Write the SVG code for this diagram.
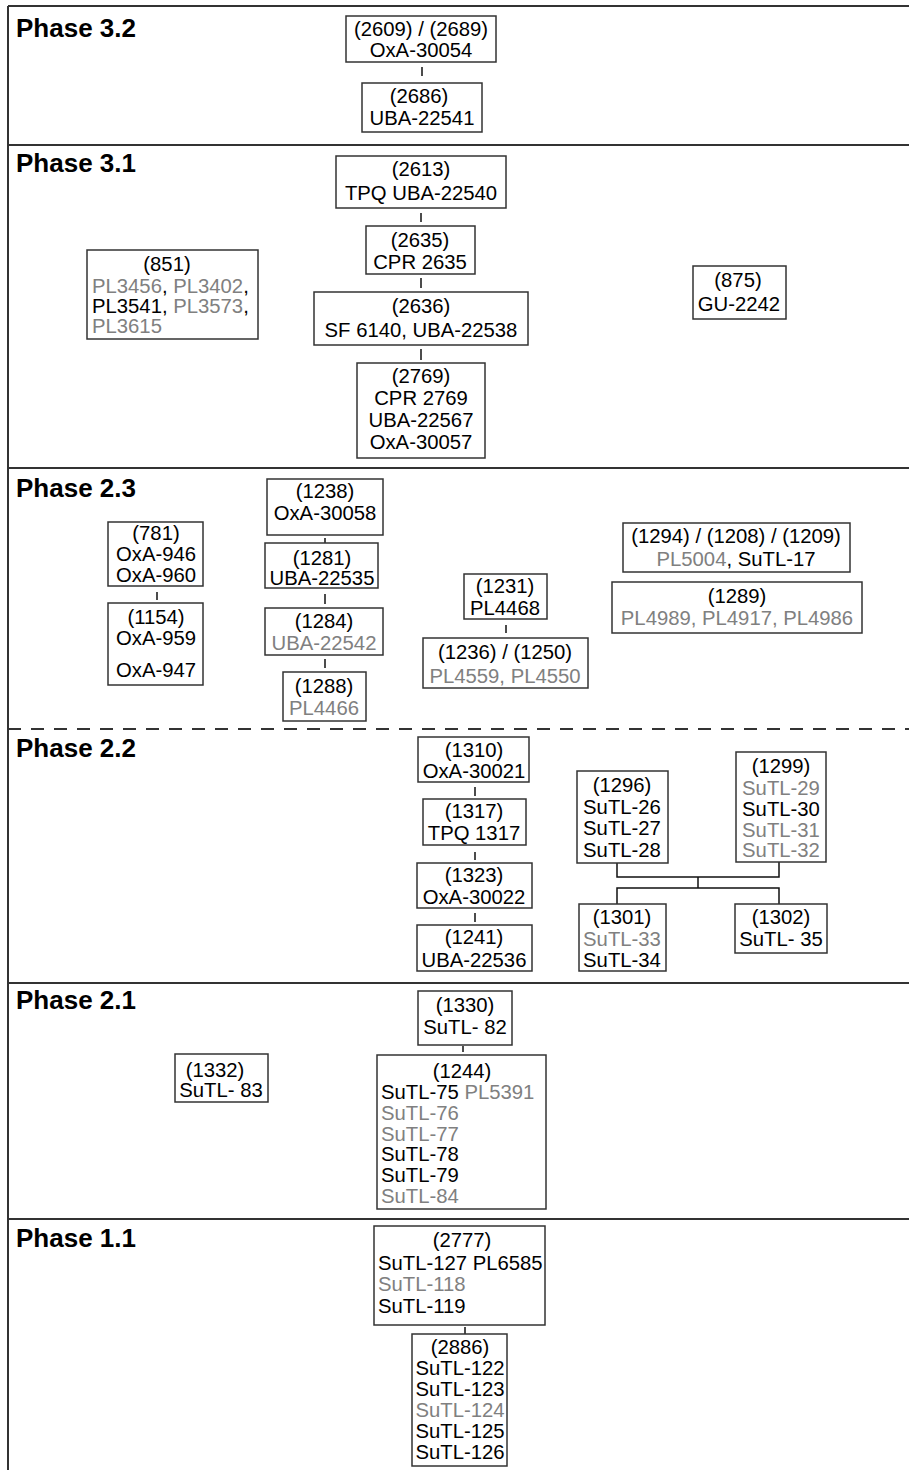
<svg xmlns="http://www.w3.org/2000/svg" width="909" height="1470" viewBox="0 0 909 1470">
<style>
.frame{stroke:#333;stroke-width:2;fill:none}
.box{fill:#fff;stroke:#333;stroke-width:1.5}
.t{font-family:"Liberation Sans",Arial,sans-serif;font-size:20.3px;fill:#000}
.c{text-anchor:middle}
.g{fill:#808080}
.ph{font-family:"Liberation Sans",Arial,sans-serif;font-size:26px;font-weight:bold;fill:#000}
.ln{stroke:#111;stroke-width:1.5;fill:none}
</style>
<rect x="0" y="0" width="909" height="1470" fill="#fff"/>
<g id="frame">
<line class="frame" x1="8" y1="6" x2="909" y2="6"/>
<line class="frame" x1="8" y1="6" x2="8" y2="1470"/>
<line class="frame" x1="8" y1="145" x2="909" y2="145"/>
<line class="frame" x1="8" y1="468" x2="909" y2="468"/>
<line class="frame" x1="8" y1="729" x2="909" y2="729" stroke-dasharray="13,10"/>
<line class="frame" x1="8" y1="983" x2="909" y2="983"/>
<line class="frame" x1="8" y1="1219" x2="909" y2="1219"/>
</g>
<g id="labels">
<text class="ph" x="16" y="37">Phase 3.2</text>
<text class="ph" x="16" y="172">Phase 3.1</text>
<text class="ph" x="16" y="497">Phase 2.3</text>
<text class="ph" x="16" y="757">Phase 2.2</text>
<text class="ph" x="16" y="1009">Phase 2.1</text>
<text class="ph" x="16" y="1247">Phase 1.1</text>
</g>
<g id="connectors">
<line class="ln" x1="422" y1="67" x2="422" y2="76"/>
<line class="ln" x1="421" y1="213" x2="421" y2="222"/>
<line class="ln" x1="421" y1="278" x2="421" y2="288"/>
<line class="ln" x1="421" y1="349" x2="421" y2="360"/>
<line class="ln" x1="157" y1="592" x2="157" y2="600"/>
<line class="ln" x1="157" y1="650" x2="157" y2="657"/>
<line class="ln" x1="325" y1="538" x2="325" y2="547"/>
<line class="ln" x1="325" y1="594" x2="325" y2="604"/>
<line class="ln" x1="325" y1="659" x2="325" y2="668"/>
<line class="ln" x1="506" y1="625" x2="506" y2="633"/>
<line class="ln" x1="475" y1="787" x2="475" y2="796"/>
<line class="ln" x1="475" y1="852" x2="475" y2="860"/>
<line class="ln" x1="475" y1="913" x2="475" y2="922"/>
<path class="ln" d="M617,863 V877 H779 V862 M698,877 V888 M617,904 V888 H779 V904"/>
<line class="ln" x1="463" y1="1046" x2="463" y2="1052"/>
<line class="ln" x1="465" y1="1327" x2="465" y2="1334"/>
</g>
<g id="n2609">
<rect class="box" x="346" y="16" width="150" height="46"/>
<text class="t c" x="421" y="36">(2609) / (2689)</text>
<text class="t c" x="421" y="57">OxA-30054</text>
</g>
<g id="n2686">
<rect class="box" x="362" y="83" width="120" height="49"/>
<text class="t c" x="419" y="103">(2686)</text>
<text class="t c" x="422" y="125">UBA-22541</text>
</g>
<g id="n2613">
<rect class="box" x="336" y="156" width="170" height="52"/>
<text class="t c" x="421" y="176">(2613)</text>
<text class="t c" x="421" y="200">TPQ UBA-22540</text>
</g>
<g id="n2635">
<rect class="box" x="366" y="226" width="109" height="48"/>
<text class="t c" x="420" y="247">(2635)</text>
<text class="t c" x="420" y="269">CPR 2635</text>
</g>
<g id="n2636">
<rect class="box" x="314" y="292" width="214" height="53"/>
<text class="t c" x="421" y="313">(2636)</text>
<text class="t c" x="421" y="337">SF 6140, UBA-22538</text>
</g>
<g id="n2769">
<rect class="box" x="357" y="363" width="128" height="95"/>
<text class="t c" x="421" y="383">(2769)</text>
<text class="t c" x="421" y="405">CPR 2769</text>
<text class="t c" x="421" y="427">UBA-22567</text>
<text class="t c" x="421" y="449">OxA-30057</text>
</g>
<g id="n851">
<rect class="box" x="87" y="250" width="171" height="89"/>
<text class="t c" x="167" y="271">(851)</text>
<text class="t" x="92" y="293"><tspan class="g">PL3456</tspan>, <tspan class="g">PL3402</tspan>,</text>
<text class="t" x="92" y="313">PL3541, <tspan class="g">PL3573</tspan>,</text>
<text class="t g" x="92" y="333">PL3615</text>
</g>
<g id="n875">
<rect class="box" x="693" y="266" width="93" height="53"/>
<text class="t c" x="738" y="287">(875)</text>
<text class="t c" x="739" y="311">GU-2242</text>
</g>
<g id="n781">
<rect class="box" x="108" y="522" width="95" height="64"/>
<text class="t c" x="156" y="540">(781)</text>
<text class="t c" x="156" y="561">OxA-946</text>
<text class="t c" x="156" y="582">OxA-960</text>
</g>
<g id="n1154">
<rect class="box" x="108" y="603" width="95" height="82"/>
<text class="t c" x="156" y="624">(1154)</text>
<text class="t c" x="156" y="645">OxA-959</text>
<text class="t c" x="156" y="677">OxA-947</text>
</g>
<g id="n1238">
<rect class="box" x="267" y="479" width="116" height="56"/>
<text class="t c" x="325" y="498">(1238)</text>
<text class="t c" x="325" y="520">OxA-30058</text>
</g>
<g id="n1281">
<rect class="box" x="265" y="543" width="113" height="45"/>
<text class="t c" x="322" y="565">(1281)</text>
<text class="t c" x="322" y="585">UBA-22535</text>
</g>
<g id="n1284">
<rect class="box" x="265" y="608" width="118" height="47"/>
<text class="t c" x="324" y="628">(1284)</text>
<text class="t c g" x="324" y="650">UBA-22542</text>
</g>
<g id="n1288">
<rect class="box" x="283" y="672" width="83" height="49"/>
<text class="t c" x="324" y="693">(1288)</text>
<text class="t c g" x="324" y="715">PL4466</text>
</g>
<g id="n1231">
<rect class="box" x="464" y="574" width="83" height="45"/>
<text class="t c" x="505" y="593">(1231)</text>
<text class="t c" x="505" y="615">PL4468</text>
</g>
<g id="n1236">
<rect class="box" x="423" y="638" width="165" height="50"/>
<text class="t c" x="505" y="659">(1236) / (1250)</text>
<text class="t c g" x="505" y="683">PL4559, PL4550</text>
</g>
<g id="n1294">
<rect class="box" x="623" y="523" width="227" height="49"/>
<text class="t c" x="736" y="543">(1294) / (1208) / (1209)</text>
<text class="t c" x="736" y="566"><tspan class="g">PL5004</tspan>, SuTL-17</text>
</g>
<g id="n1289">
<rect class="box" x="612" y="582" width="250" height="51"/>
<text class="t c" x="737" y="603">(1289)</text>
<text class="t c g" x="737" y="625">PL4989, PL4917, PL4986</text>
</g>
<g id="n1310">
<rect class="box" x="418" y="737" width="111" height="45"/>
<text class="t c" x="474" y="757">(1310)</text>
<text class="t c" x="474" y="778">OxA-30021</text>
</g>
<g id="n1317">
<rect class="box" x="423" y="799" width="103" height="46"/>
<text class="t c" x="474" y="818">(1317)</text>
<text class="t c" x="474" y="840">TPQ 1317</text>
</g>
<g id="n1323">
<rect class="box" x="417" y="863" width="115" height="45"/>
<text class="t c" x="474" y="882">(1323)</text>
<text class="t c" x="474" y="904">OxA-30022</text>
</g>
<g id="n1241">
<rect class="box" x="417" y="925" width="115" height="46"/>
<text class="t c" x="474" y="944">(1241)</text>
<text class="t c" x="474" y="967">UBA-22536</text>
</g>
<g id="n1296">
<rect class="box" x="577" y="771" width="91" height="92"/>
<text class="t c" x="622" y="792">(1296)</text>
<text class="t c" x="622" y="814">SuTL-26</text>
<text class="t c" x="622" y="835">SuTL-27</text>
<text class="t c" x="622" y="857">SuTL-28</text>
</g>
<g id="n1299">
<rect class="box" x="736" y="752" width="90" height="110"/>
<text class="t c" x="781" y="773">(1299)</text>
<text class="t c g" x="781" y="795">SuTL-29</text>
<text class="t c" x="781" y="816">SuTL-30</text>
<text class="t c g" x="781" y="837">SuTL-31</text>
<text class="t c g" x="781" y="857">SuTL-32</text>
</g>
<g id="n1301">
<rect class="box" x="579" y="904" width="87" height="67"/>
<text class="t c" x="622" y="924">(1301)</text>
<text class="t c g" x="622" y="946">SuTL-33</text>
<text class="t c" x="622" y="967">SuTL-34</text>
</g>
<g id="n1302">
<rect class="box" x="735" y="904" width="92" height="49"/>
<text class="t c" x="781" y="924">(1302)</text>
<text class="t c" x="781" y="946">SuTL- 35</text>
</g>
<g id="n1330">
<rect class="box" x="418" y="991" width="94" height="54"/>
<text class="t c" x="465" y="1012">(1330)</text>
<text class="t c" x="465" y="1034">SuTL- 82</text>
</g>
<g id="n1244">
<rect class="box" x="377" y="1055" width="169" height="154"/>
<text class="t c" x="462" y="1078">(1244)</text>
<text class="t" x="381" y="1099">SuTL-75 <tspan class="g">PL5391</tspan></text>
<text class="t g" x="381" y="1120">SuTL-76</text>
<text class="t g" x="381" y="1141">SuTL-77</text>
<text class="t" x="381" y="1161">SuTL-78</text>
<text class="t" x="381" y="1182">SuTL-79</text>
<text class="t g" x="381" y="1203">SuTL-84</text>
</g>
<g id="n1332">
<rect class="box" x="175" y="1054" width="93" height="48"/>
<text class="t c" x="215" y="1077">(1332)</text>
<text class="t c" x="221" y="1097">SuTL- 83</text>
</g>
<g id="n2777">
<rect class="box" x="374" y="1226" width="171" height="99"/>
<text class="t c" x="462" y="1247">(2777)</text>
<text class="t" x="378" y="1270">SuTL-127 PL6585</text>
<text class="t g" x="378" y="1291">SuTL-118</text>
<text class="t" x="378" y="1313">SuTL-119</text>
</g>
<g id="n2886">
<rect class="box" x="412" y="1334" width="95" height="132"/>
<text class="t c" x="460" y="1354">(2886)</text>
<text class="t c" x="460" y="1375">SuTL-122</text>
<text class="t c" x="460" y="1396">SuTL-123</text>
<text class="t c g" x="460" y="1417">SuTL-124</text>
<text class="t c" x="460" y="1438">SuTL-125</text>
<text class="t c" x="460" y="1459">SuTL-126</text>
</g>
</svg>
